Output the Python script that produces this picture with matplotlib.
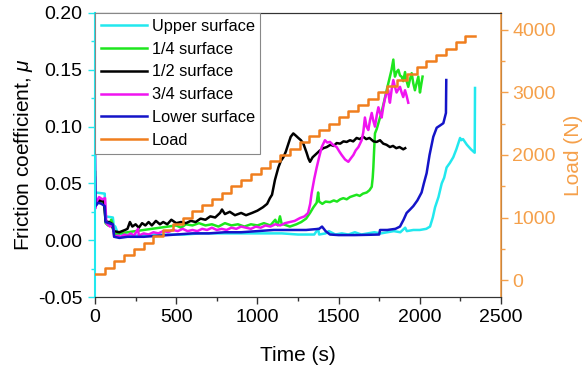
import matplotlib
matplotlib.use("Agg")
import matplotlib.pyplot as plt
from matplotlib.ticker import MultipleLocator

plt.rcParams['font.family'] = ['Liberation Sans', 'DejaVu Sans']
plt.rcParams['mathtext.fontset'] = 'custom'
plt.rcParams['mathtext.it'] = 'Liberation Sans:italic'
plt.rcParams['mathtext.rm'] = 'Liberation Sans'

# ---- data ----
upper_t = [0, 3, 60, 63, 110, 115, 125, 140, 180, 250, 350, 450, 550, 650, 750, 850, 950,
           1050, 1150, 1250, 1350, 1374, 1380, 1420, 1440, 1480, 1520, 1560, 1600, 1640,
           1680, 1720, 1760, 1800, 1840, 1880, 1910, 1920, 1960, 2000, 2040, 2063, 2080,
           2094, 2115, 2135, 2150, 2165, 2185, 2206, 2225, 2248, 2255, 2266, 2290, 2315,
           2338, 2340]
upper_mu = [0.042, 0.042, 0.041, 0.021, 0.020, 0.013, 0.012, 0.006, 0.005, 0.004, 0.005,
            0.005, 0.005, 0.006, 0.006, 0.006, 0.006, 0.006, 0.006, 0.005, 0.005, 0.010,
            0.005, 0.006, 0.008, 0.005, 0.006, 0.005, 0.007, 0.005, 0.006, 0.007, 0.006,
            0.007, 0.008, 0.007, 0.011, 0.008, 0.009, 0.009, 0.010, 0.012, 0.020, 0.029,
            0.038, 0.050, 0.055, 0.064, 0.068, 0.073, 0.080, 0.090, 0.088, 0.089, 0.084,
            0.080, 0.077, 0.134]

quarter_t = [0, 2, 15, 40, 60, 65, 80, 100, 110, 118, 150, 200, 250, 300, 350, 400, 450, 500,
             530, 560, 600, 640, 680, 720, 760, 800, 840, 880, 920, 960, 1000, 1040, 1080,
             1110, 1125, 1139, 1150, 1160, 1200, 1240, 1270, 1300, 1324, 1345, 1365, 1374,
             1380, 1400, 1420, 1447, 1470, 1490, 1510, 1529, 1550, 1570, 1590, 1611, 1630,
             1650, 1673, 1690, 1704, 1710, 1714, 1719, 1724, 1735, 1745, 1755, 1765, 1780,
             1796, 1806, 1816, 1826, 1837, 1842, 1847, 1857, 1868, 1878, 1888, 1898, 1909,
             1919, 1929, 1940, 1950, 1960, 1970, 1980, 1991, 2001, 2010, 2017]
quarter_mu = [0.060, 0.030, 0.033, 0.034, 0.033, 0.015, 0.013, 0.018, 0.014, 0.005, 0.006,
              0.007, 0.008, 0.009, 0.010, 0.011, 0.012, 0.013, 0.011, 0.014, 0.013, 0.015,
              0.013, 0.014, 0.012, 0.015, 0.013, 0.014, 0.012, 0.014, 0.013, 0.015, 0.013,
              0.018, 0.013, 0.021, 0.014, 0.014, 0.012, 0.014, 0.016, 0.019, 0.024, 0.029,
              0.033, 0.042, 0.034, 0.032, 0.034, 0.0335, 0.035, 0.034, 0.036, 0.037, 0.036,
              0.038, 0.039, 0.040, 0.039, 0.041, 0.042, 0.044, 0.047, 0.055, 0.064, 0.080,
              0.094, 0.098, 0.103, 0.108, 0.113, 0.122, 0.132, 0.138, 0.144, 0.150, 0.159,
              0.150, 0.144, 0.148, 0.150, 0.145, 0.144, 0.140, 0.148, 0.140, 0.135, 0.142,
              0.147, 0.138, 0.132, 0.138, 0.144, 0.130, 0.138, 0.144]

half_t = [0, 10, 30, 55, 65, 100, 115, 150, 185, 200, 215, 230, 250, 270, 290, 310, 330, 350,
          375, 400, 420, 445, 470, 500, 530, 560, 590, 620, 650, 680, 710, 740, 770, 782, 800,
          830, 862, 900, 930, 967, 1000, 1034, 1060, 1077, 1090, 1108, 1129, 1145, 1160, 1175,
          1191, 1205, 1221, 1237, 1252, 1268, 1283, 1303, 1314, 1324, 1340, 1355, 1370, 1385,
          1406, 1427, 1450, 1470, 1488, 1510, 1530, 1550, 1570, 1590, 1611, 1630, 1652, 1670,
          1690, 1715, 1734, 1755, 1775, 1795, 1816, 1835, 1855, 1875, 1898, 1910]
half_mu = [0.030, 0.033, 0.035, 0.034, 0.017, 0.015, 0.008, 0.007, 0.009, 0.010, 0.016,
           0.012, 0.014, 0.011, 0.015, 0.013, 0.016, 0.013, 0.017, 0.014, 0.016, 0.014, 0.018,
           0.015, 0.016, 0.015, 0.017, 0.016, 0.019, 0.018, 0.021, 0.020, 0.024, 0.027, 0.023,
           0.025, 0.022, 0.024, 0.022, 0.024, 0.026, 0.029, 0.032, 0.037, 0.040, 0.053, 0.064,
           0.070, 0.073, 0.078, 0.085, 0.091, 0.094, 0.092, 0.090, 0.088, 0.085, 0.077, 0.072,
           0.069, 0.073, 0.075, 0.077, 0.079, 0.081, 0.082, 0.084, 0.083, 0.0855, 0.085, 0.087,
           0.0865, 0.088, 0.087, 0.090, 0.089, 0.091, 0.089, 0.090, 0.087, 0.0865, 0.088, 0.085,
           0.084, 0.082, 0.083, 0.081, 0.082, 0.080, 0.081]

three_t = [0, 2, 10, 25, 45, 62, 70, 92, 110, 118, 140, 160, 180, 200, 220, 240, 265, 270,
           300, 330, 360, 390, 420, 450, 480, 510, 540, 570, 600, 630, 660, 690, 720, 750, 780,
           810, 840, 870, 900, 930, 960, 990, 1020, 1050, 1080, 1110, 1140, 1170, 1200, 1230,
           1262, 1290, 1312, 1325, 1334, 1350, 1365, 1380, 1396, 1416, 1430, 1447, 1465, 1488,
           1505, 1519, 1540, 1560, 1575, 1591, 1605, 1622, 1642, 1652, 1662, 1672, 1683, 1694,
           1704, 1714, 1724, 1735, 1745, 1755, 1765, 1776, 1786, 1796, 1806, 1811, 1816, 1827,
           1837, 1847, 1857, 1868, 1878, 1888, 1898, 1909, 1919, 1929]
three_mu = [0.055, 0.028, 0.034, 0.038, 0.036, 0.037, 0.015, 0.012, 0.014, 0.003, 0.004,
            0.003, 0.005, 0.004, 0.006, 0.004, 0.010, 0.004, 0.006, 0.005, 0.007, 0.006, 0.008,
            0.007, 0.009, 0.008, 0.010, 0.008, 0.009, 0.008, 0.010, 0.009, 0.011, 0.009, 0.010,
            0.009, 0.011, 0.010, 0.012, 0.011, 0.010, 0.012, 0.011, 0.013, 0.012, 0.014, 0.013,
            0.015, 0.016, 0.017, 0.0195, 0.021, 0.024, 0.032, 0.0415, 0.054, 0.064, 0.073,
            0.082, 0.088, 0.086, 0.0865, 0.084, 0.082, 0.078, 0.075, 0.071, 0.069, 0.072, 0.075,
            0.079, 0.082, 0.088, 0.095, 0.108, 0.100, 0.097, 0.106, 0.112, 0.105, 0.100, 0.110,
            0.117, 0.112, 0.108, 0.118, 0.125, 0.130, 0.132, 0.125, 0.121, 0.133, 0.141, 0.135,
            0.130, 0.133, 0.135, 0.130, 0.126, 0.132, 0.127, 0.121]

lower_t = [0, 3, 20, 40, 60, 65, 110, 118, 150, 200, 300, 400, 500, 600, 700, 800, 900, 1000,
           1100, 1200, 1300, 1380, 1398, 1420, 1447, 1500, 1600, 1700, 1750, 1755, 1800, 1850,
           1878, 1900, 1919, 1940, 1960, 1985, 2011, 2025, 2042, 2060, 2083, 2104, 2125, 2145,
           2161, 2163]
lower_mu = [0.085, 0.030, 0.033, 0.032, 0.030, 0.016, 0.014, 0.003, 0.002, 0.003, 0.003,
            0.004, 0.005, 0.006, 0.006, 0.007, 0.007, 0.008, 0.009, 0.009, 0.009, 0.010, 0.012,
            0.008, 0.005, 0.0045, 0.0045, 0.0048, 0.005, 0.009, 0.009, 0.010, 0.012, 0.018,
            0.024, 0.027, 0.030, 0.035, 0.042, 0.050, 0.059, 0.075, 0.091, 0.099, 0.101, 0.103,
            0.112, 0.141]

load_t = [0, 60, 120, 180, 240, 300, 360, 420, 480, 540, 600, 660, 720, 780, 840, 900, 960,
          1020, 1080, 1140, 1200, 1260, 1320, 1380, 1440, 1500, 1560, 1620, 1680, 1740, 1800,
          1860, 1920, 1980, 2040, 2100, 2160, 2220, 2280, 2340]
load_n = [100, 200, 300, 400, 500, 600, 700, 800, 900, 1000, 1100, 1200, 1300, 1400, 1500,
          1600, 1700, 1800, 1900, 2000, 2100, 2200, 2300, 2400, 2500, 2600, 2700, 2800, 2900,
          3000, 3100, 3200, 3300, 3400, 3500, 3600, 3700, 3800, 3900, 3900]

cyan = '#22E8EE'
orange_line = '#F07E1E'
orange_axis = '#F5A04A'

fig = plt.figure(figsize=(5.85, 3.71), dpi=100)
ax = fig.add_axes([95/585, 1-297/371, 406/585, 284/371])
ax2 = ax.twinx()

lw = 1.8
l1, = ax.plot(upper_t, upper_mu, color=cyan, lw=lw, label='Upper surface')
l2, = ax.plot(quarter_t, quarter_mu, color='#1EE61E', lw=lw, label='1/4 surface')
l3, = ax.plot(half_t, half_mu, color='black', lw=lw, label='1/2 surface')
l4, = ax.plot(three_t, three_mu, color='#F014F0', lw=lw, label='3/4 surface')
l5, = ax.plot(lower_t, lower_mu, color='#1414C8', lw=lw, label='Lower surface')
l6, = ax2.step(load_t, load_n, where='post', color=orange_line, lw=lw, label='Load')

ax.set_xlim(0, 2500)
ax.set_ylim(-0.05, 0.20)
ax2.set_ylim(-270, 4270)

ax.xaxis.set_major_locator(MultipleLocator(500))
ax.xaxis.set_minor_locator(MultipleLocator(250))
ax.yaxis.set_major_locator(MultipleLocator(0.05))
ax.yaxis.set_minor_locator(MultipleLocator(0.025))
ax.yaxis.set_major_formatter(matplotlib.ticker.FormatStrFormatter('%.2f'))
ax2.yaxis.set_major_locator(MultipleLocator(1000))
ax2.yaxis.set_minor_locator(MultipleLocator(500))

ax.tick_params(axis='both', which='major', direction='out', length=5, width=1,
               labelsize=14, pad=4, color='#333333')
ax.tick_params(axis='both', which='minor', direction='out', length=3, width=1, color='#333333')
ax.tick_params(axis='y', which='both', color=cyan)
ax2.tick_params(axis='y', which='major', direction='out', length=5, width=1,
                labelsize=14, pad=3, color=orange_axis, labelcolor=orange_axis)
ax2.tick_params(axis='y', which='minor', direction='out', length=3, width=1, color=orange_axis)

ax.spines['left'].set_color(cyan)
ax.spines['left'].set_linewidth(1.5)
ax2.spines['left'].set_visible(False)
ax2.spines['right'].set_color(orange_axis)
ax2.spines['right'].set_linewidth(1.2)
for s in ['top', 'bottom']:
    ax.spines[s].set_color('#333333')
    ax2.spines[s].set_color('#333333')

ax.set_xlabel('Time (s)', fontsize=15, labelpad=14)
ax.set_ylabel('Friction coefficient, $\\mu$', fontsize=15, labelpad=2)
ax2.set_ylabel('Load (N)', fontsize=15, color=orange_axis, labelpad=6)

leg = ax2.legend(handles=[l1, l2, l3, l4, l5, l6], loc='upper left', bbox_to_anchor=(0, 1),
                 borderaxespad=0, fontsize=11.8, handlelength=2.8, handletextpad=0.3,
                 labelspacing=0.48, borderpad=0.35, fancybox=False, framealpha=1)
leg.get_frame().set_edgecolor('#888888')
leg.get_frame().set_linewidth(0.8)

fig.savefig('out.png', dpi=100)
